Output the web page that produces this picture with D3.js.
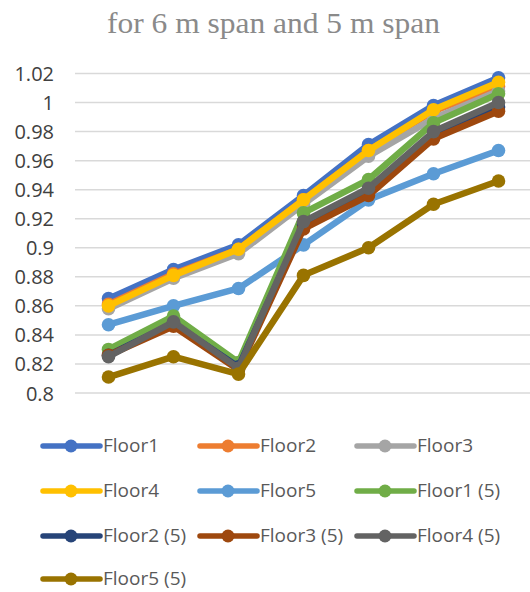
<!DOCTYPE html>
<html>
<head>
<meta charset="utf-8">
<script src="https://cdn.jsdelivr.net/npm/d3@7"></script>
<style>
  html, body { margin: 0; padding: 0; background: #fff; }
  svg { display: block; }
</style>
</head>
<body>
<svg id="chart" width="530" height="592"></svg>
<script>
// Ratio per floor at each step, 6 m span floors and 5 m span floors "(5)"
const categories = ["1", "2", "3", "4", "5", "6", "7"];
const seriesNames = ["Floor1", "Floor2", "Floor3", "Floor4", "Floor5",
  "Floor1 (5)", "Floor2 (5)", "Floor3 (5)", "Floor4 (5)", "Floor5 (5)"];
const floor1   = [0.865, 0.885, 0.902, 0.936, 0.971, 0.998, 1.017];
const floor2   = [0.861, 0.882, 0.899, 0.933, 0.967, 0.994, 1.011];
const floor3   = [0.858, 0.879, 0.896, 0.930, 0.963, 0.989, 1.008];
const floor4   = [0.860, 0.881, 0.899, 0.933, 0.967, 0.995, 1.014];
const floor5   = [0.847, 0.860, 0.872, 0.902, 0.933, 0.951, 0.967];
const floor1s5 = [0.830, 0.853, 0.821, 0.924, 0.947, 0.986, 1.006];
const floor2s5 = [0.826, 0.848, 0.818, 0.916, 0.939, 0.977, 0.997];
const floor3s5 = [0.826, 0.846, 0.816, 0.913, 0.936, 0.975, 0.994];
const floor4s5 = [0.825, 0.849, 0.817, 0.918, 0.941, 0.980, 1.000];
const floor5s5 = [0.811, 0.825, 0.813, 0.881, 0.900, 0.930, 0.946];
const yTicks = [0.8, 0.82, 0.84, 0.86, 0.88, 0.9, 0.92, 0.94, 0.96, 0.98, 1, 1.02];
const colors = ["#4472C4", "#ED7D31", "#A5A5A5", "#FFC000", "#5B9BD5",
  "#70AD47", "#264478", "#9E480E", "#636363", "#997300"];

const seriesValues = [floor1, floor2, floor3, floor4, floor5,
  floor1s5, floor2s5, floor3s5, floor4s5, floor5s5];
const series = seriesNames.map((name, i) => ({ name, values: seriesValues[i], color: colors[i] }));

const svg = d3.select("#chart");

// Title
svg.append("text")
  .attr("x", 273.5).attr("y", 33)
  .attr("text-anchor", "middle")
  .attr("font-family", "'Liberation Serif', 'DejaVu Serif', serif")
  .attr("font-size", 30)
  .attr("textLength", 333)
  .attr("lengthAdjust", "spacingAndGlyphs")
  .attr("fill", "#8a8a8a")
  .text("for 6 m span and 5 m span");

const x = d3.scalePoint().domain(categories).range([76, 531]).padding(0.5);
const y = d3.scaleLinear().domain([0.8, 1.02]).range([393, 73.5]);

// Horizontal gridlines
svg.append("g")
  .selectAll("line")
  .data(yTicks)
  .join("line")
  .attr("x1", 75).attr("x2", 531)
  .attr("y1", d => y(d)).attr("y2", d => y(d))
  .attr("stroke", "#d9d9d9")
  .attr("stroke-width", 1.5);

// Y axis labels
const yAxis = d3.axisLeft(y).tickValues(yTicks).tickSize(0).tickPadding(0)
  .tickFormat(d => String(+d.toFixed(2)));
const gy = svg.append("g").attr("transform", "translate(54,0)").call(yAxis);
gy.select(".domain").remove();
gy.selectAll("text")
  .attr("font-family", "'Open Sans', sans-serif")
  .attr("font-size", 20)
  .attr("fill", "#404040")
  .attr("dy", "0.35em");

// Lines and markers
const line = d3.line()
  .x((d, i) => x(categories[i]))
  .y(d => y(d));

const sg = svg.append("g")
  .selectAll("g")
  .data(series)
  .join("g");

sg.append("path")
  .attr("d", d => line(d.values))
  .attr("fill", "none")
  .attr("stroke", d => d.color)
  .attr("stroke-width", 6.5)
  .attr("stroke-linejoin", "round")
  .attr("stroke-linecap", "round");

sg.selectAll("circle")
  .data(d => d.values.map((v, i) => ({ v, i, color: d.color })))
  .join("circle")
  .attr("cx", d => x(categories[d.i]))
  .attr("cy", d => y(d.v))
  .attr("r", 6.8)
  .attr("fill", d => d.color);

// Legend
const legend = svg.append("g");
const colX = [43, 200, 357];
const rowY = [446, 491, 536, 579];
const items = legend.selectAll("g")
  .data(series)
  .join("g")
  .attr("transform", (d, i) => `translate(${colX[i % 3]},${rowY[Math.floor(i / 3)]})`);
items.append("line")
  .attr("x1", 0).attr("x2", 57)
  .attr("y1", 0).attr("y2", 0)
  .attr("stroke", d => d.color)
  .attr("stroke-width", 5.5)
  .attr("stroke-linecap", "round");
items.append("circle")
  .attr("cx", 28).attr("cy", 0).attr("r", 6.5)
  .attr("fill", d => d.color);
items.append("text")
  .attr("x", 60).attr("y", 0).attr("dy", "0.34em")
  .attr("font-family", "'Open Sans', sans-serif")
  .attr("font-size", 19)
  .attr("fill", "#595959")
  .text(d => d.name);
</script>
</body>
</html>
